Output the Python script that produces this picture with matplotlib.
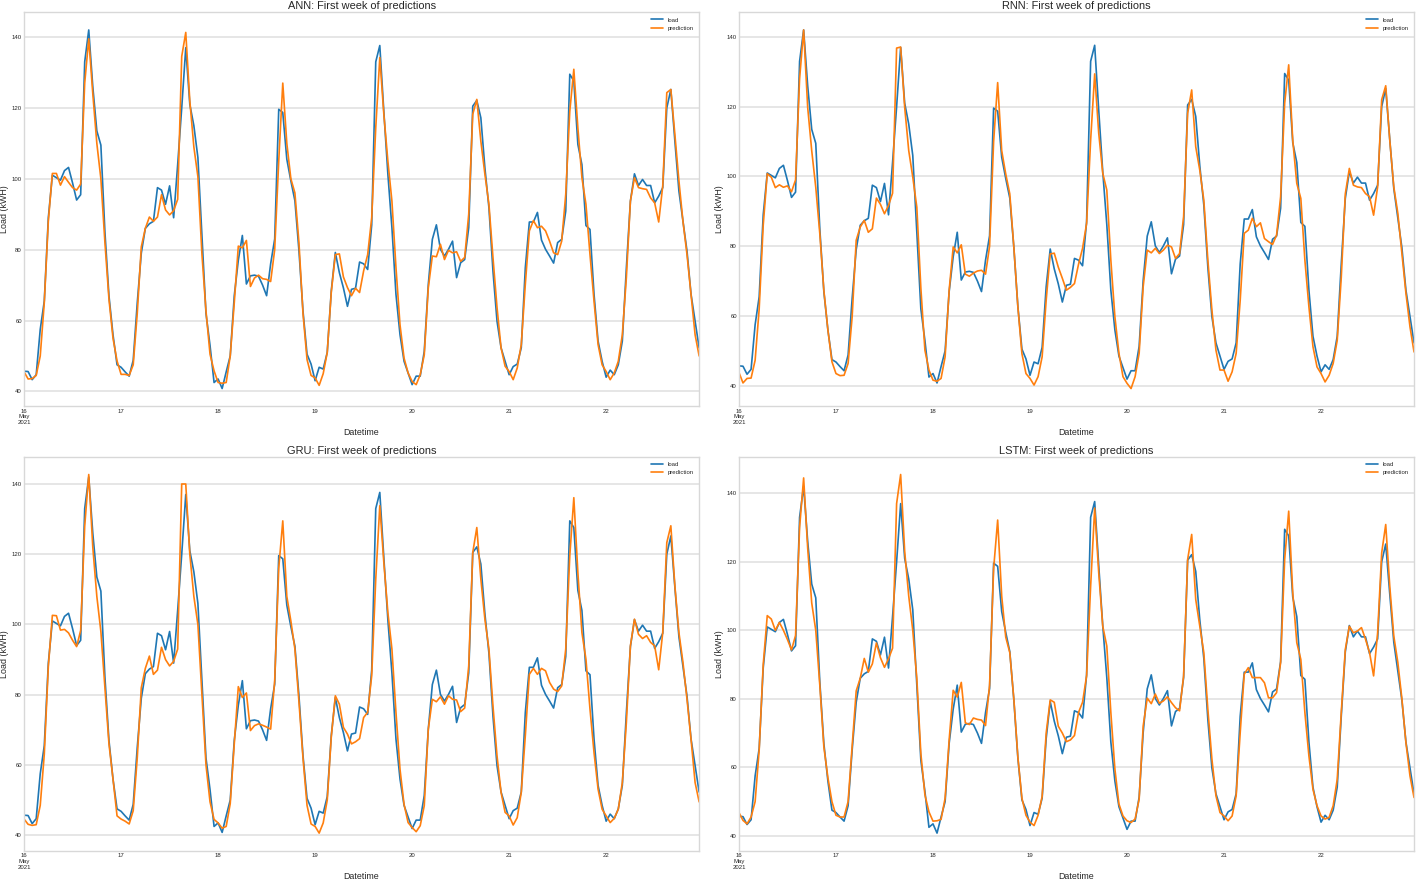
import pandas as pd
import matplotlib
matplotlib.use('Agg')
import matplotlib.pyplot as plt

plt.style.use('seaborn-v0_8-whitegrid')
plt.rcParams['font.family'] = ['Liberation Sans', 'DejaVu Sans']
plt.rcParams['grid.color'] = '#e2e2e2'
plt.rcParams['grid.linewidth'] = 1.2
plt.rcParams['axes.edgecolor'] = '#d8d8d8'

# hourly values, first week of the test set (one line per day, 16..22 May 2021)
start = '2021-05-16 00:00'

load = [
    45.7, 45.6, 43.3, 44.7, 57.5, 65.5, 89.0, 101.0, 100.3, 99.6, 102.3, 103.2, 98.8, 94.0, 95.5, 133.0, 142.0, 126.0, 113.5, 109.5, 85.0, 67.0, 56.0, 47.5,
    46.8, 45.5, 44.3, 48.8, 65.0, 79.0, 86.0, 87.3, 88.0, 97.5, 96.8, 92.8, 98.0, 89.0, 104.0, 120.0, 137.0, 121.0, 115.0, 106.0, 84.0, 62.0, 53.0, 42.5,
    43.5, 40.8, 45.5, 50.0, 67.0, 77.0, 84.0, 70.3, 72.6, 72.8, 72.5, 70.0, 67.0, 76.0, 83.0, 119.6, 118.7, 105.5, 99.4, 93.8, 79.7, 62.7, 50.5, 47.7,
    43.0, 46.8, 46.3, 51.0, 68.4, 79.2, 73.5, 69.2, 64.0, 68.8, 69.1, 76.5, 76.0, 74.4, 87.0, 133.0, 137.6, 119.0, 101.3, 86.2, 67.4, 56.0, 48.5, 45.2,
    41.9, 44.3, 44.3, 51.3, 70.2, 82.9, 87.0, 80.1, 78.2, 80.1, 82.4, 72.1, 76.3, 77.2, 86.2, 120.5, 122.1, 117.2, 103.1, 91.8, 73.9, 59.8, 52.3, 48.5,
    44.7, 47.0, 47.7, 52.3, 74.9, 87.8, 87.8, 90.5, 82.7, 80.1, 78.2, 76.2, 82.0, 82.9, 90.9, 129.5, 127.6, 109.7, 104.0, 86.8, 85.7, 67.4, 54.2, 48.5,
    44.0, 46.0, 44.7, 47.5, 54.2, 74.9, 93.7, 101.4, 98.1, 99.8, 98.1, 98.1, 93.2, 95.1, 97.5, 120.0, 125.2, 110.6, 96.5, 88.0, 79.6, 67.4, 59.8, 52.3,
]

ann_pred = [
    45.5, 43.5, 43.6, 44.5, 50.0, 65.0, 88.0, 101.5, 101.5, 98.2, 100.6, 99.0, 97.5, 96.8, 98.5, 127.0, 139.5, 124.0, 110.0, 100.0, 82.0, 66.0, 55.0, 48.6,
    44.8, 44.8, 44.5, 47.5, 62.0, 80.8, 86.0, 89.2, 88.0, 89.2, 95.5, 91.2, 89.8, 91.0, 94.2, 134.5, 141.3, 122.0, 109.0, 100.6, 78.7, 62.7, 50.5, 45.8,
    42.5, 42.3, 42.5, 50.0, 65.0, 81.0, 80.5, 82.6, 69.6, 72.0, 72.8, 71.8, 71.6, 71.0, 80.0, 105.0, 127.0, 110.0, 100.0, 96.0, 82.0, 62.0, 49.0, 44.5,
    43.8, 41.7, 45.0, 51.0, 68.0, 78.6, 78.8, 72.3, 69.3, 67.0, 69.1, 67.9, 74.0, 78.6, 89.0, 114.4, 134.2, 118.2, 105.0, 93.7, 75.0, 58.8, 49.4, 45.2,
    42.8, 41.9, 44.7, 50.3, 69.2, 78.2, 78.0, 81.5, 77.2, 79.8, 79.1, 79.4, 76.7, 77.8, 90.0, 118.2, 122.4, 110.6, 101.3, 92.8, 77.8, 63.7, 52.3, 47.1,
    45.6, 43.3, 46.6, 53.2, 70.2, 85.3, 88.2, 86.2, 86.6, 85.3, 82.4, 79.1, 78.6, 82.4, 95.6, 119.0, 130.9, 114.4, 100.3, 92.8, 78.6, 65.4, 53.2, 47.5,
    45.6, 43.3, 45.2, 48.5, 56.0, 72.1, 93.7, 100.3, 97.5, 97.2, 97.0, 94.6, 93.2, 87.8, 98.0, 124.3, 125.2, 112.5, 99.4, 88.0, 78.6, 67.4, 56.0, 50.0,
]

rnn_pred = [
    43.8, 40.8, 42.1, 42.2, 47.3, 62.0, 86.0, 100.8, 99.8, 96.8, 97.6, 96.9, 97.3, 95.6, 99.0, 128.0, 142.0, 119.8, 107.4, 96.9, 83.6, 67.4, 56.0, 46.9,
    43.5, 42.9, 43.0, 46.4, 59.7, 81.7, 85.5, 87.4, 84.0, 85.0, 93.8, 92.0, 89.3, 91.7, 95.2, 136.8, 137.1, 119.8, 107.4, 99.8, 91.2, 68.0, 50.2, 44.5,
    41.6, 41.3, 42.1, 48.3, 67.4, 79.8, 78.1, 80.4, 72.0, 71.4, 72.3, 72.9, 73.1, 72.0, 80.0, 110.0, 126.9, 107.4, 100.7, 95.0, 79.8, 62.6, 49.2, 43.5,
    42.1, 40.2, 42.6, 48.3, 64.5, 77.8, 78.0, 74.0, 70.8, 67.4, 68.2, 69.3, 74.8, 79.4, 86.5, 110.4, 129.4, 112.4, 100.9, 96.1, 76.0, 59.8, 49.3, 42.6,
    40.7, 39.2, 42.6, 49.3, 68.4, 78.9, 78.1, 79.4, 77.9, 78.9, 80.3, 79.8, 76.5, 77.9, 88.5, 118.1, 124.8, 108.5, 101.8, 93.2, 76.0, 61.7, 50.2, 44.5,
    44.5, 41.3, 44.0, 49.3, 64.5, 83.7, 84.6, 88.0, 85.6, 86.7, 82.2, 81.3, 80.5, 83.2, 94.2, 121.0, 132.0, 110.4, 98.0, 93.7, 76.0, 62.6, 51.2, 45.4,
    43.5, 41.1, 43.0, 46.4, 53.0, 71.0, 95.0, 102.3, 97.5, 97.0, 96.8, 95.1, 94.2, 88.9, 97.0, 122.0, 126.0, 110.4, 97.0, 89.4, 77.9, 66.5, 56.9, 49.7,
]

gru_pred = [
    44.6, 43.1, 42.8, 43.0, 48.5, 63.0, 88.0, 102.6, 102.5, 98.4, 98.6, 97.6, 95.5, 93.7, 98.3, 128.0, 142.7, 122.0, 108.0, 98.0, 82.0, 66.0, 56.0, 45.5,
    44.6, 44.0, 43.2, 47.0, 62.0, 82.0, 87.5, 91.0, 85.8, 87.0, 93.5, 90.0, 88.2, 89.5, 93.0, 140.0, 140.0, 120.0, 108.0, 100.0, 80.0, 60.0, 49.5, 44.5,
    43.5, 42.0, 42.5, 49.0, 66.0, 82.3, 79.2, 80.5, 69.8, 71.2, 71.7, 71.3, 70.8, 70.2, 84.0, 116.0, 129.5, 108.0, 101.0, 93.0, 78.0, 62.0, 48.5, 43.2,
    42.5, 40.6, 43.5, 50.0, 68.0, 79.7, 77.3, 70.7, 68.8, 66.0, 66.6, 67.5, 73.5, 75.0, 85.4, 112.9, 133.8, 117.6, 103.4, 93.0, 75.0, 58.8, 48.8, 43.6,
    42.2, 41.0, 42.7, 48.4, 70.2, 78.7, 78.0, 79.4, 77.3, 79.7, 78.7, 78.5, 75.2, 76.2, 88.2, 120.5, 127.6, 112.9, 101.5, 93.0, 76.8, 62.6, 52.2, 46.5,
    45.5, 42.9, 45.0, 52.2, 68.3, 85.8, 87.5, 85.8, 87.5, 86.8, 83.5, 81.6, 80.9, 82.5, 93.0, 119.5, 136.1, 114.8, 97.7, 90.1, 75.9, 63.5, 53.1, 47.4,
    45.5, 43.6, 44.8, 47.4, 55.0, 72.1, 93.9, 101.5, 97.2, 96.0, 96.8, 94.9, 93.9, 87.1, 97.7, 123.3, 128.1, 111.0, 97.7, 89.2, 78.7, 67.3, 55.0, 49.5,
]

lstm_pred = [
    46.8, 44.5, 43.5, 45.5, 50.0, 65.0, 90.0, 104.3, 103.3, 100.0, 102.3, 100.0, 97.3, 94.3, 98.5, 130.0, 144.5, 124.0, 108.0, 100.0, 84.0, 66.0, 57.0, 50.0,
    46.0, 45.5, 45.5, 50.0, 66.0, 82.3, 86.0, 91.8, 87.8, 90.2, 96.3, 92.0, 89.2, 91.7, 94.8, 137.0, 145.5, 123.0, 110.0, 100.0, 86.0, 64.0, 52.0, 47.0,
    44.3, 44.4, 44.8, 51.0, 68.0, 82.5, 80.5, 84.8, 73.0, 72.5, 74.4, 74.0, 73.8, 72.2, 84.0, 118.0, 132.2, 110.0, 98.0, 93.5, 80.0, 63.0, 51.0, 46.0,
    44.0, 43.0, 46.0, 51.5, 70.0, 79.7, 79.0, 72.0, 70.0, 67.5, 68.0, 69.3, 76.0, 79.0, 86.7, 112.9, 135.7, 116.8, 101.2, 95.4, 76.0, 59.5, 49.3, 45.8,
    44.4, 43.9, 44.9, 50.7, 72.1, 80.2, 78.6, 81.4, 78.7, 79.4, 80.6, 78.9, 77.4, 76.5, 86.7, 120.7, 128.0, 109.0, 101.2, 93.5, 76.9, 62.4, 51.7, 46.8,
    45.8, 44.4, 45.8, 51.7, 70.1, 87.2, 89.1, 86.2, 86.2, 86.2, 84.7, 80.3, 80.3, 81.8, 90.6, 120.7, 134.8, 111.0, 96.4, 91.5, 76.0, 63.3, 53.6, 48.8,
    45.8, 44.9, 45.4, 48.8, 56.5, 76.0, 94.4, 101.2, 99.3, 99.8, 100.8, 97.4, 93.5, 86.7, 99.3, 122.6, 130.9, 112.9, 98.3, 90.6, 80.0, 67.2, 57.5, 51.2,
]

model_names = ['ANN', 'RNN', 'GRU', 'LSTM']
predictions = [ann_pred, rnn_pred, gru_pred, lstm_pred]

index = pd.date_range(start, periods=len(load), freq='h')

fig, axes = plt.subplots(2, 2, figsize=(14.16, 8.83), dpi=100)
fig.subplots_adjust(left=0.017, right=0.9986, top=0.9864, bottom=0.0362,
                    wspace=0.059, hspace=0.127)

for ax, name, pred in zip(axes.flat, model_names, predictions):
    df = pd.DataFrame({'load': load, 'prediction': pred}, index=index)
    df.plot(ax=ax, lw=1.2)
    ax.set_title(f'{name}: First week of predictions', fontsize=7.9, pad=2)
    ax.set_xlabel('Datetime', fontsize=6.4, labelpad=2)
    ax.set_ylabel('Load (kWH)', fontsize=6.4, labelpad=2)
    ax.tick_params(axis='both', which='both', labelsize=4.3, pad=1.5)
    ax.grid(False, axis='x', which='both')
    ax.legend(loc='upper right', fontsize=4.3)

fig.savefig('out.png')
